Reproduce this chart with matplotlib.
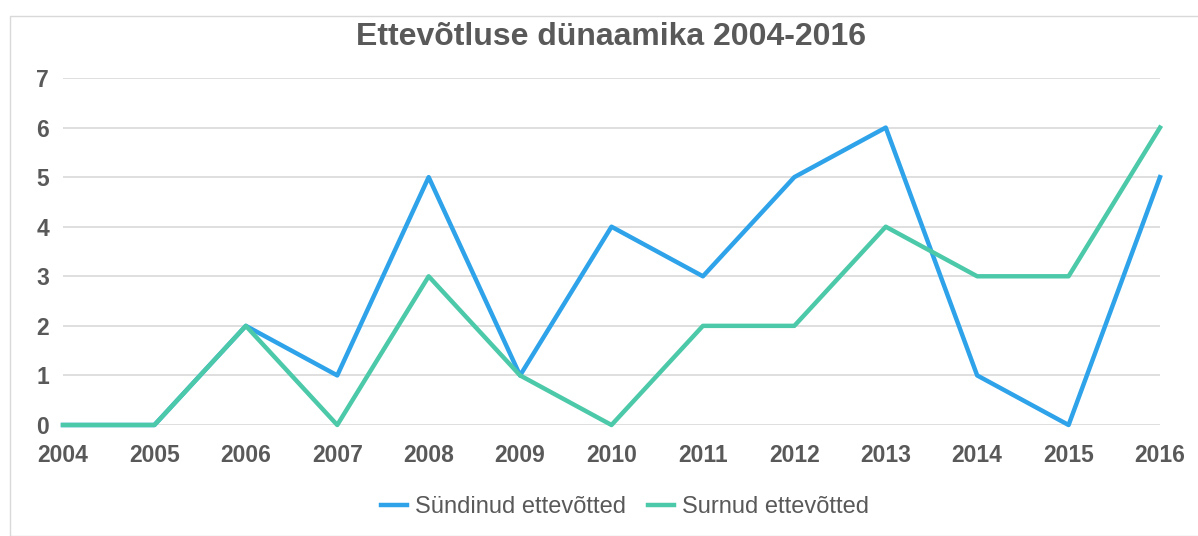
import matplotlib
matplotlib.use("Agg")
from matplotlib import pyplot as plt
from matplotlib.patches import Rectangle

years = [2004, 2005, 2006, 2007, 2008, 2009, 2010, 2011, 2012, 2013, 2014, 2015, 2016]
born = [0, 0, 2, 1, 5, 1, 4, 3, 5, 6, 1, 0, 5]
died = [0, 0, 2, 0, 3, 1, 0, 2, 2, 4, 3, 3, 6]

plt.rcParams['font.family'] = ['Liberation Sans', 'DejaVu Sans']
text_color = '#595959'

W, H = 1198, 536
fig = plt.figure(figsize=(W / 100, H / 100), dpi=100)
fig.patches.append(Rectangle((10 / W, 0), 1.2, 1 - 16 / H, transform=fig.transFigure,
                             fill=False, edgecolor='#d9d9d9', linewidth=1))

ax = fig.add_axes([63 / W, 1 - 425 / H, (1160 - 63) / W, (425 - 78) / H])
ax.plot(years, born, color='#2EA3EA', linewidth=3.2, label='Sündinud ettevõtted', clip_on=False)
ax.plot(years, died, color='#4CC9A9', linewidth=3.2, label='Surnud ettevõtted', clip_on=False)

ax.set_xlim(2004, 2016)
ax.set_ylim(0, 7)
ax.set_xticks(years)
ax.set_yticks(range(0, 8))
ax.grid(axis='y', color='#d9d9d9', linewidth=1.2)
ax.set_axisbelow(True)
for s in ax.spines.values():
    s.set_visible(False)
ax.tick_params(length=0, labelsize=16.5, labelcolor=text_color)
ax.tick_params(axis='y', pad=10)
ax.tick_params(axis='x', pad=14)
for lab in ax.get_xticklabels() + ax.get_yticklabels():
    lab.set_fontweight('bold')

fig.text(611 / W, 1 - 37 / H, 'Ettevõtluse dünaamika 2004-2016', ha='center', va='center',
         fontsize=23, fontweight='bold', color=text_color)

fig.legend(loc='center', bbox_to_anchor=(625 / W, 1 - 507 / H), ncol=2, frameon=False,
           fontsize=17, labelcolor=text_color, handlelength=1.1, handletextpad=0.35,
           columnspacing=0.9)

fig.savefig('out.png', dpi=100)
